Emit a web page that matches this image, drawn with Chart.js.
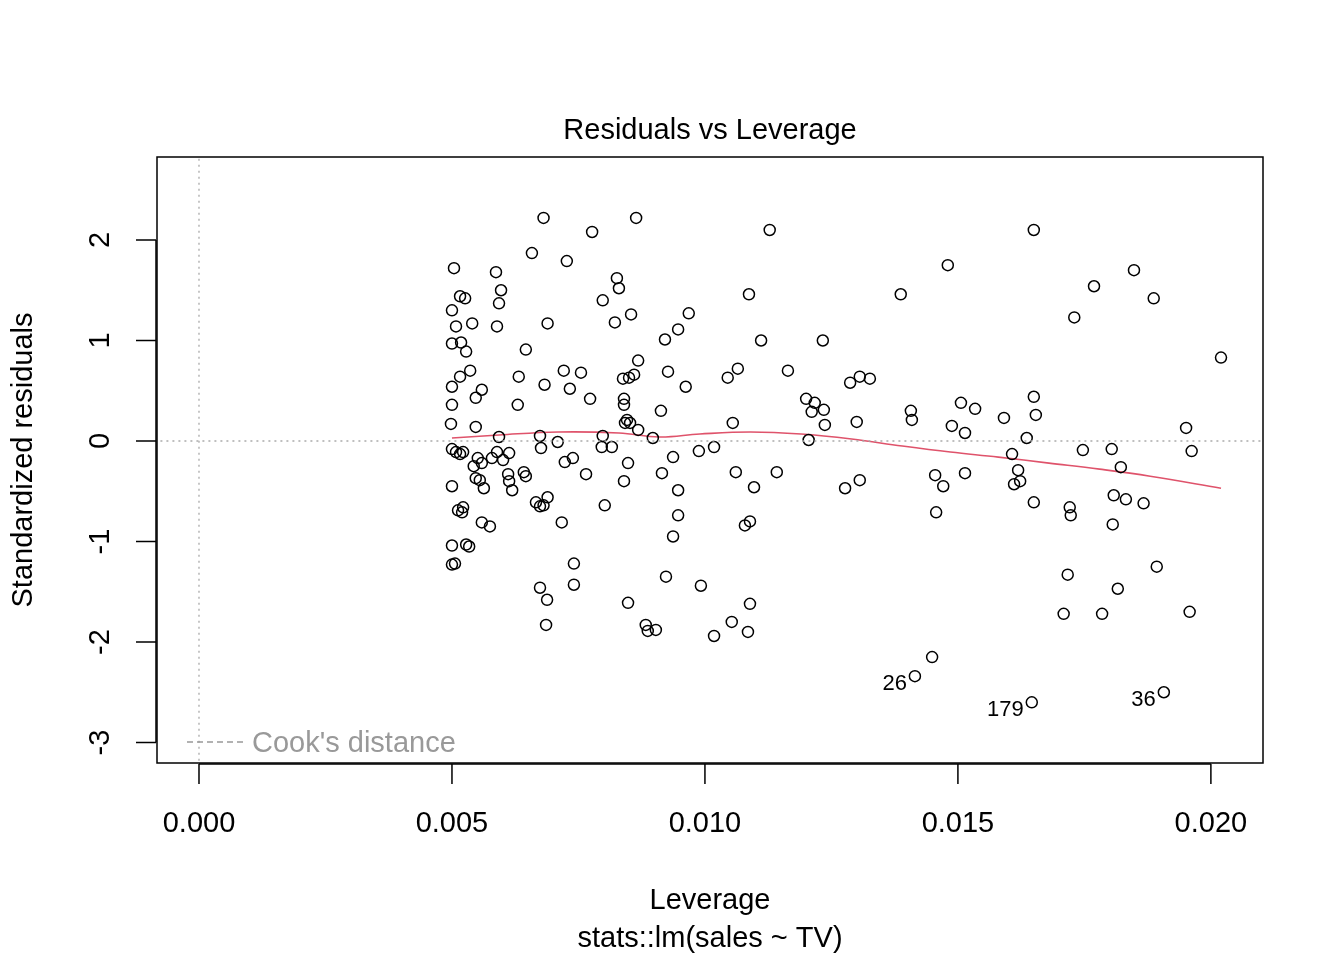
<!DOCTYPE html>
<html><head><meta charset="utf-8">
<script src="https://cdn.jsdelivr.net/npm/chart.js@4/dist/chart.umd.min.js"></script>
<style>body{margin:0;background:#fff}#wrap{width:1344px;height:960px}</style>
</head><body><div id="wrap"><canvas id="c"></canvas></div>
<script>
// leverage in units of 1e-3
const leverage = [5.04,5.0,5.08,5.0,5.18,5.28,5.16,5.26,5.4,5.0,5.16,5.36,5.0,4.98,5.47,5.59,5.47,5.0,5.08,5.16,5.22,5.0,5.43,5.51,5.59,5.47,5.55,5.63,5.12,5.2,5.22,5.59,5.75,5.0,5.28,5.34,5.0,5.06,
5.87,5.97,5.93,5.89,6.46,6.32,6.3,5.93,5.89,5.79,6.01,6.13,6.11,6.13,6.19,6.42,6.46,
6.58,6.81,7.27,6.89,6.83,7.21,7.33,7.55,7.73,6.74,6.76,7.09,7.23,7.39,7.65,6.66,6.74,6.81,6.89,7.17,6.74,6.88,6.86,7.41,7.41,
7.77,8.64,7.98,8.26,8.3,8.22,8.54,8.68,8.6,8.5,8.38,8.4,8.4,8.46,8.52,8.42,8.68,7.98,7.96,8.16,8.97,8.48,8.4,8.02,8.48,8.83,8.87,9.03,
9.21,9.47,9.68,9.27,9.62,9.13,9.88,9.37,10.18,9.15,9.47,9.47,9.37,9.23,9.92,10.18,10.53,10.85,10.89,
10.87,11.28,11.11,10.45,10.65,10.55,10.61,10.97,10.79,10.89,11.42,11.64,12.0,12.17,12.11,12.35,12.37,12.05,12.33,12.87,13.06,13.26,13.0,12.77,13.06,
13.87,14.8,14.07,14.09,14.88,15.06,15.14,15.34,14.55,14.71,15.14,14.57,14.49,14.15,
15.91,16.5,16.5,16.54,16.36,16.07,16.19,16.23,16.11,16.5,16.46,
17.3,17.69,18.48,18.87,20.2,17.47,18.04,18.22,19.51,19.62,17.21,17.23,18.08,18.32,18.67,18.06,17.17,17.09,17.85,18.16,18.93,19.58,19.07];
const stdResid = [1.72,1.30,1.14,0.97,0.98,0.89,1.44,1.42,1.17,0.54,0.64,0.70,0.36,0.17,0.43,0.51,0.14,-0.08,-0.11,-0.13,-0.11,-0.45,-0.25,-0.17,-0.22,-0.37,-0.39,-0.47,-0.69,-0.71,-0.66,-0.81,-0.85,-1.04,-1.03,-1.05,-1.23,-1.22,
1.68,1.50,1.37,1.14,0.91,0.64,0.36,0.04,-0.11,-0.17,-0.19,-0.12,-0.33,-0.40,-0.49,-0.31,-0.35,
1.87,2.22,1.79,1.17,0.56,0.70,0.52,0.68,0.42,0.05,-0.07,-0.01,-0.21,-0.17,-0.33,-0.61,-0.65,-0.64,-0.56,-0.81,-1.46,-1.58,-1.83,-1.22,-1.43,
2.08,2.22,1.40,1.62,1.52,1.18,1.26,0.80,0.66,0.63,0.62,0.42,0.36,0.21,0.18,0.18,0.11,0.05,-0.06,-0.06,0.03,-0.22,-0.40,-0.64,-1.61,-1.83,-1.89,-1.88,
1.01,1.11,1.27,0.69,0.54,0.30,-0.10,-0.16,-0.06,-0.32,-0.49,-0.74,-0.95,-1.35,-1.44,-1.94,-1.80,-1.90,-1.62,
1.46,2.10,1.00,0.63,0.72,0.18,-0.31,-0.46,-0.84,-0.80,-0.31,0.70,0.42,0.38,0.29,0.31,0.16,0.01,1.00,0.58,0.64,0.62,0.19,-0.47,-0.39,
1.46,1.75,0.30,0.21,0.15,0.38,0.08,0.32,-0.34,-0.45,-0.32,-0.71,-2.15,-2.34,
0.23,2.10,0.44,0.26,0.03,-0.13,-0.29,-0.40,-0.43,-0.61,-2.60,
1.23,1.54,1.70,1.42,0.83,-0.09,-0.08,-0.26,0.13,-0.10,-0.66,-0.74,-0.54,-0.58,-0.62,-0.83,-1.33,-1.72,-1.72,-1.47,-1.25,-1.70,-2.50];
const smoothX = [5.0,5.93,7.1,8.3,9.1,9.9,10.9,11.9,12.9,13.9,14.85,15.8,16.8,17.8,18.8,20.2];
const smoothY = [0.03,0.06,0.09,0.08,0.04,0.07,0.09,0.07,0.02,-0.05,-0.11,-0.16,-0.22,-0.28,-0.35,-0.47];
const labelled = [{x:14.15,y:-2.34,t:'26'},{x:16.46,y:-2.60,t:'179'},{x:19.07,y:-2.50,t:'36'}];
const xTicks = [0,0.005,0.010,0.015,0.020];
const yTicks = [-3,-2,-1,0,1,2];

const pts = leverage.map((v,i)=>({x:v/1000,y:stdResid[i]}));
const FONT = '"Liberation Sans", Arial, sans-serif';

const rPlot = {
  id:'rPlot',
  afterDraw(ch){
    const c=ch.ctx, a=ch.chartArea, xs=ch.scales.x, ys=ch.scales.y;
    c.save();
    c.strokeStyle='#000'; c.lineWidth=1.5;
    c.strokeRect(a.left,a.top,a.right-a.left,a.bottom-a.top);
    c.fillStyle='#000';
    c.font='29px '+FONT;
    // x axis
    const x0=xs.getPixelForValue(xTicks[0]), x1=xs.getPixelForValue(xTicks[xTicks.length-1]);
    c.beginPath(); c.moveTo(x0,a.bottom+1); c.lineTo(x1,a.bottom+1);
    xTicks.forEach(v=>{const p=xs.getPixelForValue(v);c.moveTo(p,a.bottom+1);c.lineTo(p,a.bottom+21);});
    c.stroke();
    c.textAlign='center'; c.textBaseline='middle';
    xTicks.forEach(v=>c.fillText(v.toFixed(3),xs.getPixelForValue(v),824));
    // y axis
    const y0=ys.getPixelForValue(yTicks[0]), y1=ys.getPixelForValue(yTicks[yTicks.length-1]);
    c.beginPath(); c.moveTo(a.left-1,y0); c.lineTo(a.left-1,y1);
    yTicks.forEach(v=>{const p=ys.getPixelForValue(v);c.moveTo(a.left-1,p);c.lineTo(a.left-21,p);});
    c.stroke();
    yTicks.forEach(v=>{const p=ys.getPixelForValue(v);c.save();c.translate(101,p);c.rotate(-Math.PI/2);c.fillText(String(v),0,0);c.restore();});
    // titles
    c.font='29px '+FONT;
    c.fillText('Residuals vs Leverage',710,131);
    c.fillText('Leverage',710,901);
    c.fillText('stats::lm(sales ~ TV)',710,939);
    c.save();c.translate(24,460);c.rotate(-Math.PI/2);c.fillText('Standardized residuals',0,0);c.restore();
    // point labels
    c.font='22px '+FONT; c.textAlign='right';
    labelled.forEach(l=>c.fillText(l.t,xs.getPixelForValue(l.x/1000)-8,ys.getPixelForValue(l.y)+8));
    // legend
    c.strokeStyle='#999'; c.lineWidth=1.3; c.setLineDash([6,4]);
    c.beginPath(); c.moveTo(187,742); c.lineTo(245,742); c.stroke(); c.setLineDash([]);
    c.fillStyle='#999'; c.textAlign='left'; c.font='29px '+FONT;
    c.fillText("Cook's distance",252,744);
    c.restore();
  }
};

new Chart(document.getElementById('c'), {
  type:'scatter',
  data:{datasets:[
    {data:[{x:0,y:-3.3},{x:0,y:2.9}],showLine:true,borderColor:'#aaa',borderWidth:1.3,borderDash:[2,4],pointRadius:0},
    {data:[{x:-0.001,y:0},{x:0.0212,y:0}],showLine:true,borderColor:'#aaa',borderWidth:1.3,borderDash:[2,4],pointRadius:0},
    {data:pts,pointRadius:5.5,pointBorderColor:'#000',pointBackgroundColor:'rgba(0,0,0,0)',pointBorderWidth:1.5},
    {data:smoothX.map((v,i)=>({x:v/1000,y:smoothY[i]})),showLine:true,borderColor:'#DF536B',borderWidth:1.6,pointRadius:0,tension:0.4}
  ]},
  options:{
    responsive:true,maintainAspectRatio:false,animation:false,
    layout:{padding:{left:157,right:81,top:157,bottom:197}},
    plugins:{legend:{display:false},tooltip:{enabled:false}},
    scales:{
      x:{type:'linear',display:false,min:-0.00083,max:0.02103},
      y:{type:'linear',display:false,min:-3.204,max:2.826}
    }
  },
  plugins:[rPlot]
});
</script></body></html>
